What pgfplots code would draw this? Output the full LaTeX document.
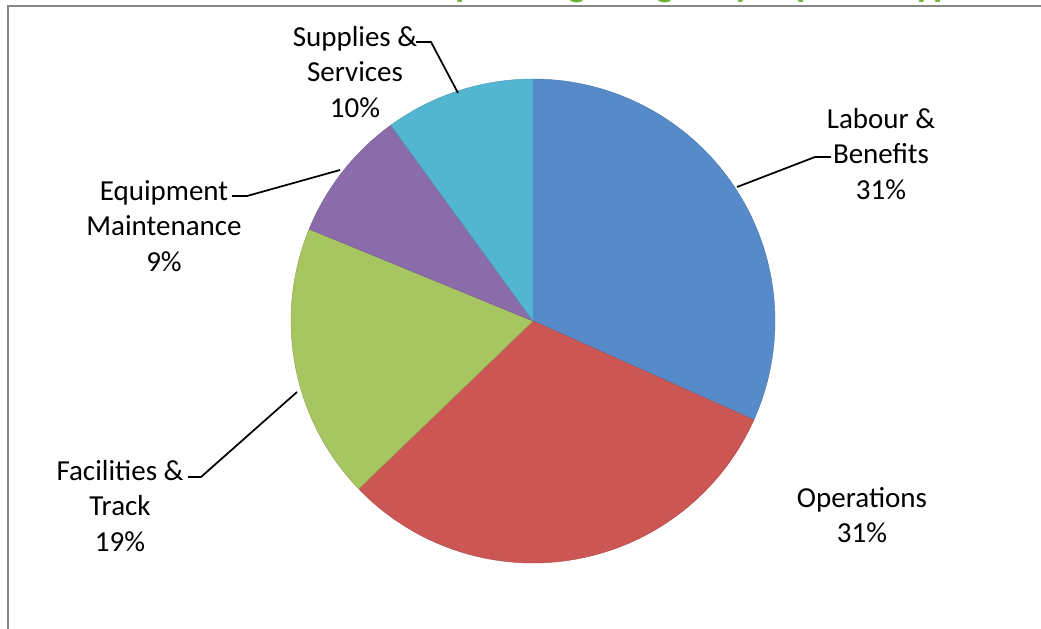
\documentclass[border=0pt]{standalone}
\usepackage{pgfplots}
\pgfplotsset{compat=1.18}
\usepackage{fontspec}
\setmainfont{Carlito}

\definecolor{cLab}{RGB}{86,138,200}
\definecolor{cOps}{RGB}{203,86,83}
\definecolor{cFac}{RGB}{167,197,96}
\definecolor{cEq}{RGB}{139,108,170}
\definecolor{cSup}{RGB}{83,182,208}
\definecolor{titlegreen}{RGB}{108,180,60}
\definecolor{framegray}{RGB}{134,134,134}

\begin{document}
\begin{tikzpicture}
\useasboundingbox (0,0) rectangle (780.75pt,471pt);
\clip (0,0) rectangle (780.75pt,471pt);

% axis in pixel units of the reference, y pointing down
\begin{axis}[
    at={(0,0)}, anchor=south west,
    x=0.75pt, y=0.75pt, y dir=reverse,
    xmin=0, xmax=1041, ymin=0, ymax=628,
    hide axis, clip=false,
]
\pgfplotsextra{
  \gdef\startang{90}
  % share (percent) / colour, clockwise from the top; centre (533,321), radius 242
  \foreach \v/\c in {31.7/cLab, 31.1/cOps, 18.4/cFac, 8.8/cEq, 10.0/cSup} {
    \pgfmathsetmacro\endang{\startang-3.6*\v}
    \pgfmathsetmacro\xa{533+242*cos(\startang)}
    \pgfmathsetmacro\ya{321-242*sin(\startang)}
    \fill[\c, draw=\c!85!black, line width=0.3pt]
      (axis cs:533,321) -- (axis cs:\xa,\ya)
      arc[start angle=\startang, end angle=\endang, radius=181.5pt] -- cycle;
    \xdef\startang{\endang}
  }
  % chart frame (cropped)
  \draw[line width=1.5pt, framegray] (axis cs:8,640) -- (axis cs:8,6) -- (axis cs:1050,6);
  % leader lines
  \draw[line width=1.3pt] (axis cs:416,42) -- (axis cs:431,42) -- (axis cs:458,93);
  \draw[line width=1.3pt] (axis cs:831,157) -- (axis cs:815,157) -- (axis cs:737,187);
  \draw[line width=1.3pt] (axis cs:232,196) -- (axis cs:247,196) -- (axis cs:340,170);
  \draw[line width=1.3pt] (axis cs:188,477) -- (axis cs:201,477) -- (axis cs:297,392);
}

% title, only its descenders show below the crop
\node[anchor=base west, inner sep=0, text=titlegreen,
      font=\fontsize{28.3}{34}\selectfont\bfseries] at (axis cs:430,-3)
      {Operating Budget by Expense Type};

% data labels
\tikzset{lbl/.style={align=center, inner sep=0,
      font=\fontsize{21.75}{26.6}\selectfont}}
\node[lbl] at (axis cs:355,72) {Supplies \&\\Services\\10\%};
\node[lbl] at (axis cs:881,154) {Labour \&\\Benefits\\31\%};
\node[lbl] at (axis cs:164,226) {Equipment\\Maintenance\\9\%};
\node[lbl] at (axis cs:120,506) {Facilities \&\\Track\\19\%};
\node[lbl] at (axis cs:862,515) {Operations\\31\%};
\end{axis}
\end{tikzpicture}
\end{document}
